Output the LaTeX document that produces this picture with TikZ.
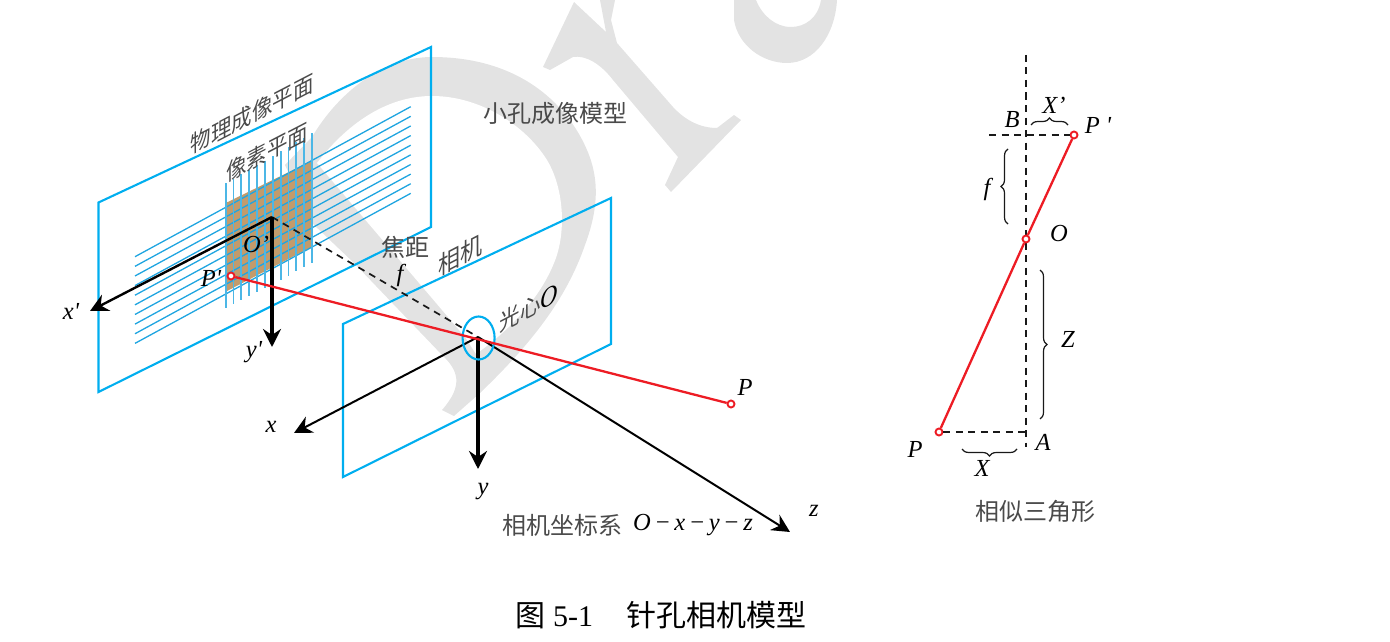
\documentclass[tikz,border=0pt]{standalone}
\usepackage{fontspec}
\setmainfont{Liberation Serif}
\newfontfamily\cjk{Noto Sans CJK SC}
\usetikzlibrary{arrows.meta,decorations.pathreplacing,shapes.geometric}
\definecolor{wm}{HTML}{E3E3E3}
\definecolor{frameblue}{HTML}{00AEEF}
\definecolor{gridblue}{HTML}{1FA5E0}
\definecolor{brownfill}{HTML}{C29B6C}
\definecolor{rayred}{HTML}{ED1C24}
\definecolor{txtgray}{HTML}{4A4A4A}
\newcommand{\fs}[1]{\fontsize{#1}{#1}\selectfont}
\newcommand{\pr}{\textquotesingle}
\tikzset{
  x=1pt,y=-1pt,
  frameline/.style={draw=frameblue,line width=2.1pt,line join=miter},
  hline/.style={draw=gridblue,line width=1.3pt},
  vline/.style={draw=gridblue!80!white,line width=1.9pt},
  axisarrow/.style={draw=black,-{Stealth[length=18pt,width=18pt,inset=6pt]}},
  dashline/.style={draw=black!90,line width=2pt,dash pattern=on 7pt off 5.5pt},
  ray/.style={draw=rayred,line width=2.3pt},
  pt/.style={circle,draw=rayred,fill=white,line width=1.9pt,minimum size=7pt,inner sep=0pt},
  bracea/.style={draw=black!90,line width=1.2pt,decorate,decoration={brace,amplitude=7pt}},
  lab/.style={inner sep=0pt,font=\fs{24.5}\itshape,text=black},
  cn/.style={inner sep=0pt,font=\fs{24}\cjk,text=txtgray},
  sheared/.style={inner sep=0pt,font=\fs{20.5}\cjk,text=txtgray,cm={1,0.52,0,1.15,(0,0)}},
}
\begin{document}
\begin{tikzpicture}
\useasboundingbox (0,0) rectangle (1390,642);
% watermark
\fill[wm] (442,410) -- (454,416) -- (480,393) .. controls (530,345) and (566,300) .. (585,245)
  .. controls (598,210) and (600,180) .. (587,150) .. controls (570,110) and (525,57) .. (432,57)
  .. controls (385,57) and (340,90) .. (312,137) -- (285,165) -- (313,224) -- (354,263) -- (442,355)
  .. controls (458,370) and (464,385) .. (442,410) -- cycle;
\fill[white] (317,163) .. controls (350,120) and (390,96) .. (432,96) .. controls (480,96) and (525,125) .. (547,160)
  .. controls (565,190) and (566,235) .. (554,263) .. controls (540,298) and (510,330) .. (476,354)
  -- (465,337) -- cycle;
\fill[wm] (574,2) -- (606,32) -- (600,0) -- (615,0) -- (611,20) -- (617,43) -- (673,107)
  .. controls (685,120) and (700,128) .. (717,128) -- (734,115) -- (741,120) -- (671,192) -- (665,185)
  -- (678,157) -- (613,80) .. controls (600,63) and (585,55) .. (573,57) -- (550,70) -- (543,67) -- cycle;
\fill[wm] (734,0) -- (734,20) .. controls (738,45) and (762,63) .. (787,63) .. controls (815,63) and (835,35) .. (837,0)
  -- (821,0) .. controls (818,18) and (805,27) .. (791,27) .. controls (775,27) and (762,15) .. (756,0) -- cycle;
% image plane
\draw[frameline] (98.5,202.5) -- (431,47) -- (431,227) -- (98.5,392) -- cycle;
\fill[brownfill] (225.7,203) -- (312,160.7) -- (312,246.7) -- (225.7,291.7) -- cycle;
\foreach \i in {0,...,9}{
  \draw[hline] (135,256.7+9.63*\i) -- (410.7,106.7+9.63*\i);
}
\foreach \i in {0,...,11}{
  \draw[vline] (225.7+7.845*\i,183.3-4.545*\i) -- (225.7+7.845*\i,308.3-4.09*\i);
}
% camera plane
\draw[frameline] (343,324) -- (611,198) -- (611,344) -- (343,477) -- cycle;
% named points
\coordinate (Oi) at (272,217);
\coordinate (Oc) at (478,337);
\coordinate (xi) at (90,311);
\coordinate (yi) at (272,347);
\coordinate (xc) at (294,433);
\coordinate (yc) at (478,469);
\coordinate (zc) at (790,532);
\draw[dashline,line width=1.7pt] (Oi) -- (Oc);
\draw[axisarrow,line width=2.4pt] (Oi) -- (xi);
\draw[axisarrow,line width=3.2pt] (Oi) -- (yi);
\draw[axisarrow,line width=2pt] (Oc) -- (xc);
\draw[axisarrow,line width=3.2pt] (Oc) -- (yc);
\draw[axisarrow,line width=2pt] (Oc) -- (zc);
\node[draw=frameblue,line width=2.1pt,ellipse,minimum width=32pt,minimum height=43pt,inner sep=0pt] (lens) at (478.6,338) {};
\node[pt] (Pimg) at (231,276) {};
\node[pt] (Pobj) at (731,404) {};
\draw[ray] (Pimg) -- (Pobj);
% labels left
\node[sheared] (t1) at (252,114) {物理成像平面};
\node[sheared] (t2) at (267,152) {像素平面};
\node[cn] (t3) at (405,247) {焦距};
\node[lab] (t4) at (400,275) {f};
\node[sheared,font=\fs{22}\cjk] (t5) at (460,255) {相机};
\node[sheared] (t6) at (529,308) {光心{\itshape\fs{24}\fontspec{Liberation Serif}\textcolor{black}{O}}};
\node[cn] (t7) at (555,113) {小孔成像模型};
\node[lab] (l1) at (71,311) {x\pr};
\node[lab] (l2) at (254,352) {y\pr};
\node[lab] (l3) at (256,244) {O’};
\node[lab] (l4) at (211,278) {P\pr};
\node[lab] (l5) at (271,427) {x};
\node[lab] (l6) at (483,492) {y};
\node[lab] (l7) at (814,511) {z};
\node[lab] (l8) at (745,387) {P};
\node[cn,anchor=west] (t8) at (502,525) {相机坐标系};
\node[lab,anchor=west] (t9) at (633,525) {O\kern3.5pt−\kern3.5pt x\kern3.5pt−\kern3.5pt y\kern3.5pt−\kern3.5pt z};
% right diagram
\coordinate (Vtop) at (1026,55);
\coordinate (Vbot) at (1026,447);
\coordinate (Hl) at (989,135);
\coordinate (A) at (1026,432);
\draw[dashline,line width=2.6pt] (Vtop) -- (Vbot);
\node[pt] (Pa) at (1074,135) {};
\node[pt] (Oa) at (1026,239) {};
\node[pt] (Pb) at (939,432) {};
\draw[dashline,line width=2.6pt] (Hl) -- (Pa);
\draw[dashline,line width=2.6pt] (Pb) -- (A);
\draw[ray] (Pa) -- (Oa) -- (Pb);
\coordinate (b1a) at (1031,125); \coordinate (b1b) at (1068,125);
\coordinate (b2a) at (1008,224); \coordinate (b2b) at (1008,149);
\coordinate (b3a) at (1040,270); \coordinate (b3b) at (1040,419);
\coordinate (b4a) at (1017,449); \coordinate (b4b) at (962,449);
\draw[bracea] (b1a) -- (b1b);
\draw[bracea] (b2a) -- (b2b);
\draw[bracea] (b3a) -- (b3b);
\draw[bracea] (b4a) -- (b4b);
\node[lab] (r1) at (1012,120) {B};
\node[lab] (r2) at (1054,105) {X’};
\node[lab] (r3) at (1098,125) {P \pr};
\node[lab] (r4) at (987,189) {f};
\node[lab] (r5) at (1059,234) {O};
\node[lab] (r6) at (1068,339) {Z};
\node[lab] (r7) at (915,449) {P};
\node[lab] (r8) at (1043,442) {A};
\node[lab] (r9) at (982,468) {X};
\node[cn] (r10) at (1035,511) {相似三角形};
% caption
\node[inner sep=0pt,anchor=west,font=\fs{30}] (cap) at (515,615) {{\cjk 图}\kern8pt 5-1\kern33pt{\cjk 针孔相机模型}};
\end{tikzpicture}
\end{document}
